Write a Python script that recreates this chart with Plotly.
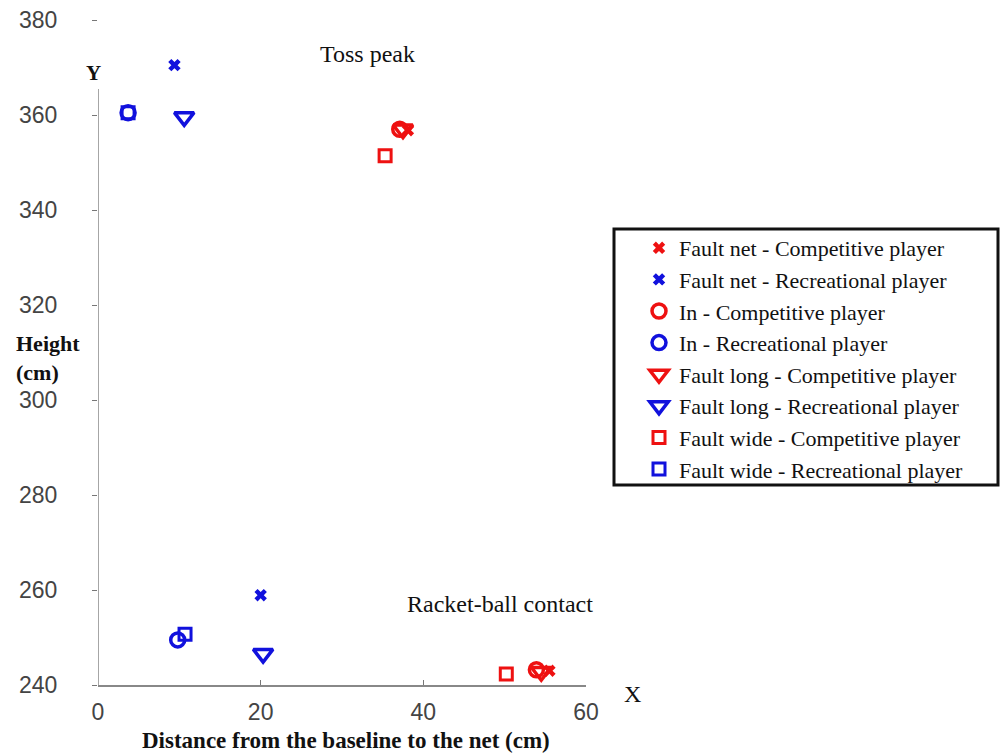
import plotly.graph_objects as go

# Data: (x = distance from baseline, cm ; y = height, cm), [toss peak, racket-ball contact]
names = [
    "Fault net - Competitive player",
    "Fault net - Recreational player",
    "In - Competitive player",
    "In - Recreational player",
    "Fault long - Competitive player",
    "Fault long - Recreational player",
    "Fault wide - Competitive player",
    "Fault wide - Recreational player",
]
net_comp_x = [38.1, 55.5]
net_comp_y = [356.8, 243.0]
net_rec_x = [9.4, 20.0]
net_rec_y = [370.5, 258.9]
in_comp_x = [37.1, 53.9]
in_comp_y = [357.0, 243.2]
in_rec_x = [3.7, 9.8]
in_rec_y = [360.5, 249.5]
long_comp_x = [37.5, 54.5]
long_comp_y = [357.0, 242.8]
long_rec_x = [10.6, 20.3]
long_rec_y = [359.6, 246.6]
wide_comp_x = [35.3, 50.2]
wide_comp_y = [351.4, 242.3]
wide_rec_x = [3.7, 10.7]
wide_rec_y = [360.5, 250.7]

xs = [net_comp_x, net_rec_x, in_comp_x, in_rec_x, long_comp_x, long_rec_x, wide_comp_x, wide_rec_x]
ys = [net_comp_y, net_rec_y, in_comp_y, in_rec_y, long_comp_y, long_rec_y, wide_comp_y, wide_rec_y]

RED = "#ee1111"
BLUE = "#1111dd"
colors = [RED, BLUE] * 4
symbols = ["x", "x", "circle-open", "circle-open", "triangle-down-open", "triangle-down-open",
           "square-open", "square-open"]
sizes = [11, 11, 14, 14, 17, 17, 12, 12]
lw = [0, 0, 3.5, 3.5, 3.5, 3.5, 3, 3]

fig = go.Figure()
for n, x, y, c, s, sz, w in zip(names, xs, ys, colors, symbols, sizes, lw):
    fig.add_trace(go.Scatter(
        x=x, y=y, mode="markers", name=n,
        marker=dict(symbol=s, size=sz, color=c, line=dict(color=c, width=w)),
    ))

serif = "Liberation Serif, Times New Roman, serif"
sans = "Liberation Sans, Arial, sans-serif"

# body of the page has an 8px margin: compensate so the plot lands where intended
OFF = 8
W, H = 1008 - OFF, 755 - OFF
plot_l, plot_r, plot_t, plot_b = 98, 586, 20, 685   # screen pixels


def px2paper(px, py):
    return (px - plot_l) / (plot_r - plot_l), (plot_b - py) / (plot_b - plot_t)


lx, ly = px2paper(639, 227)
bx0, by0 = px2paper(614, 485)
bx1, by1 = px2paper(998, 229)

fig.update_layout(
    width=W, height=H,
    margin=dict(l=plot_l - OFF, r=W - (plot_r - OFF), t=plot_t - OFF, b=H - (plot_b - OFF),
                autoexpand=False),
    paper_bgcolor="white", plot_bgcolor="white",
    showlegend=True,
    legend=dict(
        x=lx, y=ly, xanchor="left", yanchor="top",
        font=dict(family=serif, size=22, color="#111111"),
        borderwidth=0, bgcolor="rgba(0,0,0,0)",
        itemwidth=30,
    ),
    xaxis=dict(
        range=[0, 60], tickvals=[0, 20, 40, 60], ticks="inside", ticklen=5,
        tickcolor="#777777", showline=True, linecolor="#888888", linewidth=1.5,
        showgrid=False, zeroline=False, ticklabelstandoff=6, automargin=False,
        tickfont=dict(family=sans, size=23, color="#444444"),
    ),
    yaxis=dict(
        range=[240, 380], tickvals=[240, 260, 280, 300, 320, 340, 360, 380],
        ticks="outside", ticklen=5, tickcolor="#777777", ticklabelstandoff=30,
        ticklabeloverflow="allow", automargin=False,
        showline=False, showgrid=False, zeroline=False,
        tickfont=dict(family=sans, size=23, color="#444444"),
    ),
    shapes=[
        dict(type="line", xref="x", yref="y", x0=0, x1=0, y0=240, y1=365.5,
             line=dict(color="#888888", width=1.5)),
        dict(type="rect", xref="paper", yref="paper", x0=bx0, y0=by0, x1=bx1, y1=by1,
             line=dict(color="#111111", width=3), layer="above"),
    ],
)

ann = [
    ("Toss peak", 367, 54, 24, "center"),
    ("Racket-ball contact", 500, 604, 24, "center"),
    ("<b>Y</b>", 93, 73, 21, "center"),
    ("X", 632, 694, 24, "center"),
    ("<b>Height<br>(cm)</b>", 48, 358, 22, "left"),
    ("<b>Distance from the baseline to the net (cm)</b>", 346, 740, 23, "center"),
]
for t, px, py, fs, al in ann:
    ax, ay = px2paper(px, py)
    fig.add_annotation(text=t, x=ax, y=ay, xref="paper", yref="paper", showarrow=False,
                       xanchor="center", yanchor="middle", align=al,
                       font=dict(family=serif, size=fs, color="#111111"))

fig.write_html("out.html")
